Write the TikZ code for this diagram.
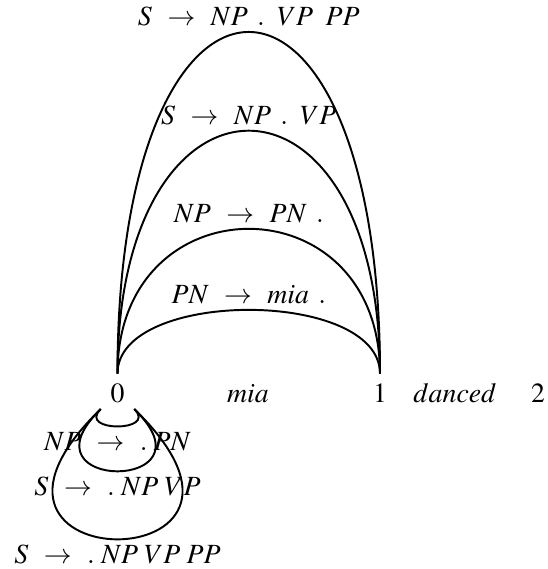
\documentclass[tikz,border=0pt]{standalone}
\usepackage{mathptmx}
\usetikzlibrary{positioning}

\begin{document}
\begin{tikzpicture}[
    x=0.36pt, y=-0.36pt,
    vertex/.style={anchor=base, inner sep=3.33pt},
    word/.style={anchor=base},
    edge/.style={line width=0.7pt},
    rule/.style={inner sep=1.7pt}
  ]
  \useasboundingbox (0,0) rectangle (548,569);

  % chart positions and words
  \node[vertex] (n0) at (117.5,402) {$0$};
  \node[word]   (w1) at (248,402)   {$mia$};
  \node[vertex] (n1) at (380,402)   {$1$};
  \node[word]   (w2) at (455,402)   {$danced$};
  \node[vertex] (n2) at (538,402)   {$2$};

  % edges spanning 0--1
  \draw[edge] (n0) to[out=90, in=90, distance=30.6pt]
    node[rule, above] {$PN \ \rightarrow\ mia\ .$} (n1);
  \draw[edge] (n0) to[out=90, in=90, distance=69.5pt]
    node[rule, above] {$NP \ \rightarrow\ PN\ .$} (n1);
  \draw[edge] (n0) to[out=90, in=90, distance=116.6pt]
    node[rule, above] {$S \ \rightarrow\ NP\ .\ \,VP$} (n1);
  \draw[edge] (n0) to[out=90, in=90, distance=164pt]
    node[rule, above] {$S \ \rightarrow\ NP\ .\ \,VP\ \,PP$} (n1);

  % empty edges at 0
  \draw[edge] (n0) to[out=-136, in=-44, distance=12pt]
    node[rule, below] {$NP \ \rightarrow\ .\;PN$} (n0);
  \draw[edge] (n0) to[out=-136, in=-44, distance=43pt]
    node[rule, below] {$S \ \rightarrow\ .\;NP\;VP$} (n0);
  \draw[edge] (n0) to[out=-136, in=-44, distance=90pt]
    node[rule, below] {$S \ \rightarrow\ .\;NP\;VP\;PP$} (n0);
\end{tikzpicture}
\end{document}
